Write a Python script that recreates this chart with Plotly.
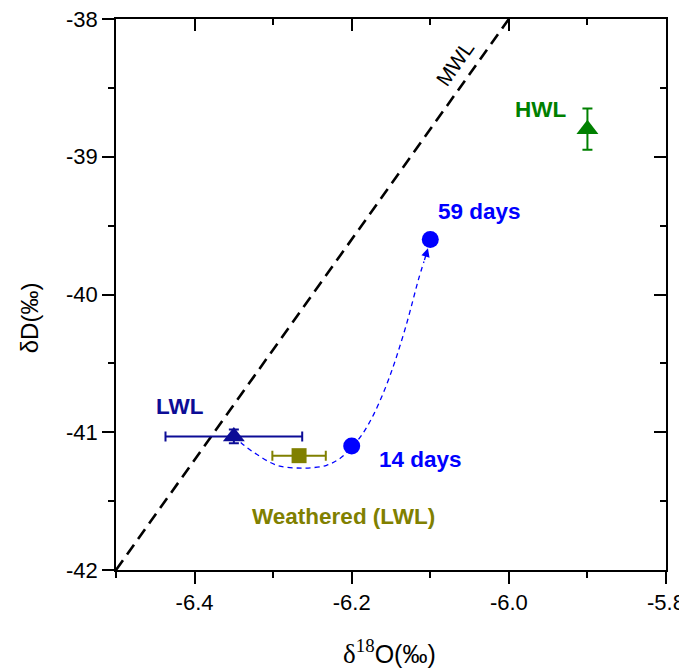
import plotly.graph_objects as go

# ---- data ----
lwl_x, lwl_y, lwl_xerr, lwl_yerr = [-6.35], [-41.03], [0.087], [0.05]
weath_x, weath_y, weath_xerr = [-6.267], [-41.17], [0.034]
days_x = [-6.20, -6.10]
days_y = [-41.10, -39.60]
hwl_x, hwl_y, hwl_yerr = [-5.90], [-38.80], [0.15]
mwl_x = [-6.5, -6.0]
mwl_y = [-42.0, -38.0]
# guide curve (hand-drawn path in the original)
curve_x = [-6.350, -6.338, -6.321, -6.295, -6.262, -6.232, -6.215, -6.200, -6.186,
           -6.172, -6.158, -6.147, -6.139, -6.130, -6.122, -6.115, -6.108]
curve_y = [-41.03, -41.09, -41.16, -41.24, -41.26, -41.24, -41.19, -41.11, -41.01,
           -40.87, -40.69, -40.52, -40.38, -40.21, -40.04, -39.89, -39.76]
arrow_tail = (-6.108, -39.76)
arrow_head = (-6.103, -39.665)

x_range = [-6.5, -5.8]
y_range = [-42, -38]
x_ticks = [-6.4, -6.2, -6.0, -5.8]
x_ticktext = ["-6.4", "-6.2", "-6.0", "-5.8"]
y_ticks = [-42, -41, -40, -39, -38]
y_ticktext = ["-42", "-41", "-40", "-39", "-38"]

NAVY = "#0c0c96"
OLIVE = "#808000"
BLUE = "#0000ff"
GREEN = "#008000"
FONT = "Liberation Sans, Arial, sans-serif"

fig = go.Figure()

fig.add_trace(go.Scatter(x=mwl_x, y=mwl_y, mode="lines",
                         line=dict(color="black", width=2.6, dash="12px,7px"),
                         hoverinfo="skip"))
fig.add_trace(go.Scatter(x=curve_x, y=curve_y, mode="lines",
                         line=dict(color=BLUE, width=1.3, dash="5px,4px",
                                   shape="spline", smoothing=1),
                         hoverinfo="skip"))
fig.add_trace(go.Scatter(x=lwl_x, y=lwl_y, mode="markers",
                         marker=dict(symbol="triangle-up", size=19, color=NAVY),
                         error_x=dict(type="data", array=lwl_xerr, color=NAVY, thickness=2, width=5),
                         error_y=dict(type="data", array=lwl_yerr, color=NAVY, thickness=2, width=5)))
fig.add_trace(go.Scatter(x=weath_x, y=weath_y, mode="markers",
                         marker=dict(symbol="square", size=15, color=OLIVE),
                         error_x=dict(type="data", array=weath_xerr, color=OLIVE, thickness=2, width=5)))
fig.add_trace(go.Scatter(x=days_x, y=days_y, mode="markers",
                         marker=dict(symbol="circle", size=17, color=BLUE)))
fig.add_trace(go.Scatter(x=hwl_x, y=hwl_y, mode="markers",
                         marker=dict(symbol="triangle-up", size=19, color=GREEN),
                         error_y=dict(type="data", array=hwl_yerr, color=GREEN, thickness=2, width=5)))
# dummy trace for mirrored (inward) top/right axes
fig.add_trace(go.Scatter(x=[x_range[0]], y=[y_range[0]], xaxis="x2", yaxis="y2",
                         mode="markers", marker=dict(opacity=0), hoverinfo="skip"))

fig.add_annotation(x=arrow_head[0], y=arrow_head[1], ax=arrow_tail[0], ay=arrow_tail[1],
                   xref="x", yref="y", axref="x", ayref="y", text="", showarrow=True,
                   arrowhead=2, arrowsize=1.3, arrowwidth=1.3, arrowcolor=BLUE)

labels = [
    ("LWL", -6.4185, -40.813, NAVY),
    ("14 days", -6.113, -41.20, BLUE),
    ("Weathered (LWL)", -6.211, -41.61, OLIVE),
    ("59 days", -6.037, -39.40, BLUE),
    ("HWL", -5.9595, -38.655, GREEN),
]
for t, x, y, c in labels:
    fig.add_annotation(x=x, y=y, text="<b>%s</b>" % t, showarrow=False,
                       xanchor="center", yanchor="middle",
                       font=dict(family=FONT, size=22.5, color=c))
fig.add_annotation(x=-6.069, y=-38.32, text="MWL", showarrow=False, textangle=-55,
                   xanchor="center", yanchor="middle",
                   font=dict(family=FONT, size=21, color="black"))

# axis titles
fig.add_annotation(x=0.498, y=-0.149, xref="paper", yref="paper", showarrow=False,
                   xanchor="center", yanchor="middle",
                   text="<span style='font-family:Liberation Serif;font-size:27px'>δ<sup>18</sup></span>O(‰)",
                   font=dict(family=FONT, size=25, color="black"))
fig.add_annotation(x=-0.158, y=0.457, xref="paper", yref="paper", showarrow=False,
                   xanchor="center", yanchor="middle",
                   text="δD(‰)", textangle=-90,
                   font=dict(family=FONT, size=24, color="black"))

axis_common = dict(showgrid=False, zeroline=False, showline=True, linecolor="black",
                   linewidth=1.6, tickcolor="black", tickwidth=1.6, ticklen=12,
                   automargin=False, ticklabeloverflow="allow")

# the page body adds an 8px offset; the figure is sized to fit the window
fig.update_layout(
    width=679, height=660,
    margin=dict(l=108, r=21, t=11, b=98),
    paper_bgcolor="white", plot_bgcolor="white",
    showlegend=False,
    font=dict(family=FONT, size=22, color="black"),
    xaxis=dict(range=x_range, tickvals=x_ticks, ticktext=x_ticktext, ticks="outside",
               minor=dict(dtick=0.1, tick0=-6.5, ticks="outside", ticklen=6,
                          tickwidth=1.6, tickcolor="black"),
               tickfont=dict(size=22), **axis_common),
    yaxis=dict(range=y_range, tickvals=y_ticks, ticktext=y_ticktext, ticks="outside",
               minor=dict(dtick=0.5, tick0=-42, ticks="outside", ticklen=6,
                          tickwidth=1.6, tickcolor="black"),
               tickfont=dict(size=22), **axis_common),
    xaxis2=dict(range=x_range, overlaying="x", side="top", anchor="y2",
                tickvals=x_ticks, showticklabels=False, ticks="inside",
                minor=dict(dtick=0.1, tick0=-6.5, ticks="inside", ticklen=6,
                           tickwidth=1.6, tickcolor="black"), **axis_common),
    yaxis2=dict(range=y_range, overlaying="y", side="right", anchor="x2",
                tickvals=y_ticks, showticklabels=False, ticks="inside",
                minor=dict(dtick=0.5, tick0=-42, ticks="inside", ticklen=6,
                           tickwidth=1.6, tickcolor="black"), **axis_common),
)

fig.write_html("out.html")
